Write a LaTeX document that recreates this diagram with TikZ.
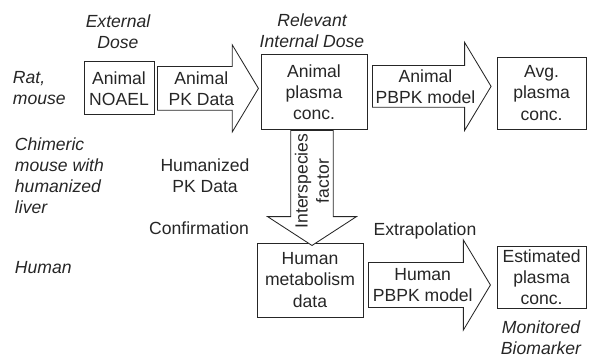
\documentclass[tikz,border=0pt]{standalone}
\usepackage{fontspec}
\setmainfont{Liberation Sans}
\usetikzlibrary{shapes.arrows, positioning}
\definecolor{ink}{HTML}{262626}

\begin{document}
\begin{tikzpicture}[
    every node/.style={text=ink, font=\fontsize{12.5}{15}\selectfont},
    box/.style={draw=ink, line width=0.6pt, align=center, inner sep=0pt},
    blk/.style={single arrow, draw=ink, fill=white, line width=0.6pt, align=center,
        single arrow tip angle=118, inner sep=2pt},
    lbl/.style={align=center, font=\fontsize{12.5}{15}\selectfont\itshape},
    note/.style={align=center}
]
    \useasboundingbox (0,0) rectangle (14.75,-8.975);

    % --- Boxes ---
    \node[box, minimum width=1.75cm, minimum height=1.325cm] (noael) at (2.975,-2.21) {Animal\\NOAEL};
    \node[box, minimum width=2.65cm, minimum height=1.875cm] (plasma) at (7.85,-2.31) {Animal\\plasma\\conc.};
    \node[box, minimum width=2.225cm, minimum height=1.8cm] (avg) at (13.54,-2.325) {Avg.\\plasma\\conc.};
    \node[box, minimum width=2.65cm, minimum height=1.85cm] (metab) at (7.75,-7.0) {Human\\metabolism\\data};
    \node[box, minimum width=2.225cm, minimum height=1.55cm] (est) at (13.54,-6.925) {Estimated\\plasma\\conc.};

    % --- Block arrows ---
    \node[blk, anchor=tail, minimum height=2.525cm, minimum width=2.175cm,
        single arrow head extend=0.5cm] (pkdata) at (3.925,-2.21) {Animal\\PK Data};
    \node[blk, anchor=tail, minimum height=2.95cm, minimum width=2.2cm,
        single arrow head extend=0.56cm] (pbpka) at (9.3,-2.16) {Animal\\PBPK model};
    \node[blk, anchor=tail, minimum height=3.05cm, minimum width=2.25cm,
        single arrow head extend=0.5cm] (pbpkh) at (9.2,-7.125) {Human\\PBPK model};
    \node[blk, anchor=tail, rotate=90, shape border rotate=180, minimum height=2.8cm,
        minimum width=2.225cm, single arrow head extend=0.55cm,
        single arrow tip angle=114] (inter) at (7.8,-3.25) {Interspecies\\factor};

    % --- Labels ---
    \node[lbl] (ext) at (2.95,-0.8) {External\\Dose};
    \node[lbl] (rel) at (7.8,-0.775) {Relevant\\Internal Dose};
    \node[lbl, anchor=west, align=left] (rat) at (0.2,-2.2) {Rat,\\mouse};
    \node[lbl, anchor=west, align=left] (chim) at (0.25,-4.4) {Chimeric\\mouse with\\humanized\\liver};
    \node[lbl, anchor=west] (human) at (0.25,-6.7) {Human};
    \node[note] (humpk) at (5.125,-4.4) {Humanized\\PK Data};
    \node[note] (conf) at (4.975,-5.7) {Confirmation};
    \node[note] (extrap) at (10.625,-5.775) {Extrapolation};
    \node[lbl] (monit) at (13.525,-8.45) {Monitored\\Biomarker};
\end{tikzpicture}
\end{document}
